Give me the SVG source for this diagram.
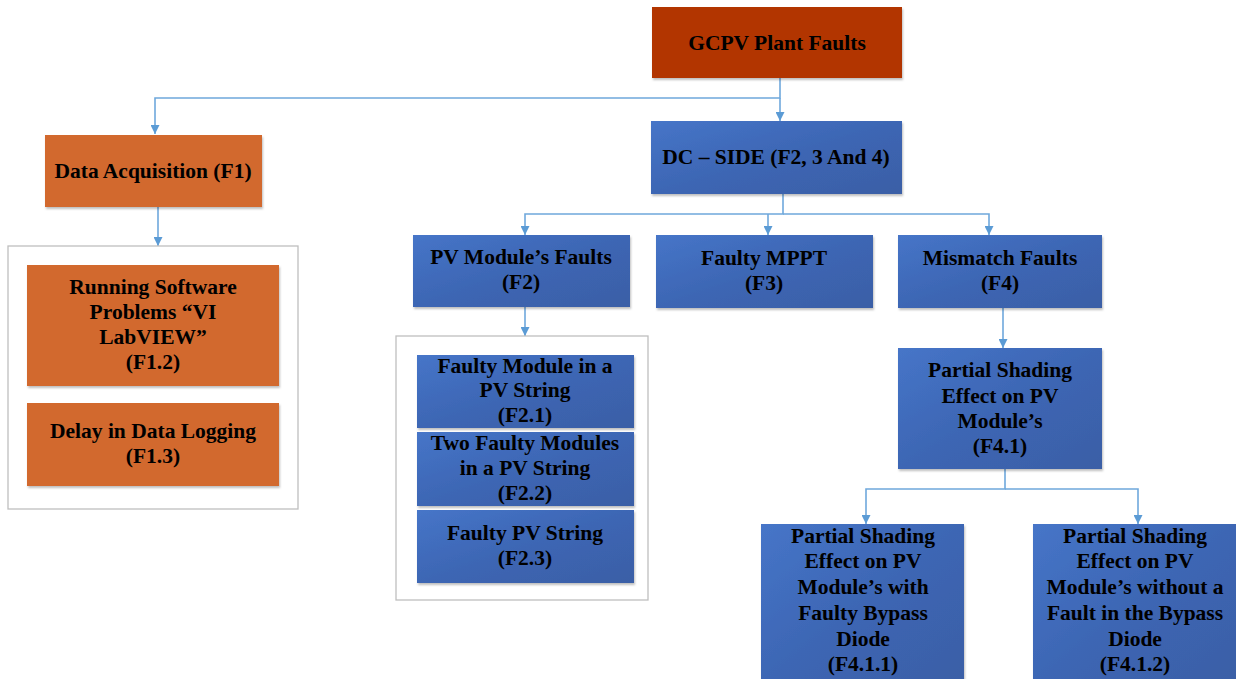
<svg xmlns="http://www.w3.org/2000/svg" width="1236" height="679" viewBox="0 0 1236 679">
<style>
.t{font-family:'Liberation Serif','Times New Roman','DejaVu Serif',serif;font-weight:700;font-size:21.5px;fill:#000;text-anchor:middle}
.blue{fill:url(#gb)}
.orange{fill:#D2692D}
.red{fill:#B23400}
.frame{fill:#fff;stroke:#BFBFBF;stroke-width:1.3}
.c{fill:none;stroke:#6FA8DC;stroke-width:1.6}
</style>
<defs>
<linearGradient id="gb" x1="0" y1="0" x2="1" y2="1">
<stop offset="0" stop-color="#4675C8"/>
<stop offset="0.5" stop-color="#3D66B4"/>
<stop offset="1" stop-color="#3A5FA6"/>
</linearGradient>
<marker id="ah" viewBox="0 0 10 10" refX="10" refY="5" markerWidth="9" markerHeight="9" markerUnits="userSpaceOnUse" orient="auto">
<path d="M0,0 L10,5 L0,10 z" fill="#5B9BD5"/>
</marker>
<filter id="sh" x="-5%" y="-5%" width="110%" height="115%">
<feDropShadow dx="1" dy="2" stdDeviation="1.2" flood-color="#000" flood-opacity="0.25"/>
</filter>
</defs>
<rect width="1236" height="679" fill="#fff"/>

<g id="connectors">
<path class="c" d="M780,78 V98 H155 V134" marker-end="url(#ah)"/>
<path class="c" d="M780,98 V121" marker-end="url(#ah)"/>
<path class="c" d="M158,207 V246" marker-end="url(#ah)"/>
<path class="c" d="M783,194 V214 H525 V235" marker-end="url(#ah)"/>
<path class="c" d="M768,214 V235" marker-end="url(#ah)"/>
<path class="c" d="M783,214 H989 V235" marker-end="url(#ah)"/>
<path class="c" d="M525,307 V336" marker-end="url(#ah)"/>
<path class="c" d="M1003,308 V348" marker-end="url(#ah)"/>
<path class="c" d="M1005,469 V489 H866 V524" marker-end="url(#ah)"/>
<path class="c" d="M1005,489 H1138 V524" marker-end="url(#ah)"/>
</g>

<g id="gcpv">
<rect class="red" x="652" y="7" width="250" height="71" filter="url(#sh)"/>
<text class="t" x="777" y="50">GCPV Plant Faults</text>
</g>

<g id="dc-side">
<rect class="blue" x="651" y="121" width="251" height="73" filter="url(#sh)"/>
<text class="t" x="776" y="164">DC – SIDE (F2, 3 And 4)</text>
</g>

<g id="f1">
<rect class="orange" x="45" y="135" width="217" height="72" filter="url(#sh)"/>
<text class="t" x="153" y="178">Data Acquisition (F1)</text>
</g>

<g id="f1-group">
<rect class="frame" x="8" y="246" width="290" height="263"/>
</g>

<g id="f1-2">
<rect class="orange" x="27" y="265" width="252" height="121" filter="url(#sh)"/>
<text class="t" x="153" y="294">Running Software</text>
<text class="t" x="153" y="319">Problems “VI</text>
<text class="t" x="153" y="344">LabVIEW”</text>
<text class="t" x="153" y="369">(F1.2)</text>
</g>

<g id="f1-3">
<rect class="orange" x="27" y="403" width="252" height="83" filter="url(#sh)"/>
<text class="t" x="153" y="438">Delay in Data Logging</text>
<text class="t" x="153" y="463">(F1.3)</text>
</g>

<g id="f2">
<rect class="blue" x="413" y="235" width="217" height="72" filter="url(#sh)"/>
<text class="t" x="521" y="264">PV Module’s Faults</text>
<text class="t" x="521" y="289">(F2)</text>
</g>

<g id="f3">
<rect class="blue" x="656" y="235" width="217" height="73" filter="url(#sh)"/>
<text class="t" x="764" y="265">Faulty MPPT</text>
<text class="t" x="764" y="290">(F3)</text>
</g>

<g id="f4">
<rect class="blue" x="898" y="235" width="204" height="73" filter="url(#sh)"/>
<text class="t" x="1000" y="265">Mismatch Faults</text>
<text class="t" x="1000" y="290">(F4)</text>
</g>

<g id="f2-group">
<rect class="frame" x="396" y="336" width="252" height="264"/>
</g>

<g id="f2-1">
<rect class="blue" x="417" y="355" width="217" height="73" filter="url(#sh)"/>
<text class="t" x="525" y="373">Faulty Module in a</text>
<text class="t" x="525" y="397">PV String</text>
<text class="t" x="525" y="422">(F2.1)</text>
</g>

<g id="f2-2">
<rect class="blue" x="417" y="432" width="217" height="74" filter="url(#sh)"/>
<text class="t" x="525" y="450">Two Faulty Modules</text>
<text class="t" x="525" y="475">in a PV String</text>
<text class="t" x="525" y="500">(F2.2)</text>
</g>

<g id="f2-3">
<rect class="blue" x="417" y="510" width="217" height="73" filter="url(#sh)"/>
<text class="t" x="525" y="540">Faulty PV String</text>
<text class="t" x="525" y="565">(F2.3)</text>
</g>

<g id="f4-1">
<rect class="blue" x="898" y="348" width="204" height="121" filter="url(#sh)"/>
<text class="t" x="1000" y="377">Partial Shading</text>
<text class="t" x="1000" y="403">Effect on PV</text>
<text class="t" x="1000" y="428">Module’s</text>
<text class="t" x="1000" y="453">(F4.1)</text>
</g>

<g id="f4-1-1">
<rect class="blue" x="761" y="524" width="203" height="160" filter="url(#sh)"/>
<text class="t" x="863" y="543">Partial Shading</text>
<text class="t" x="863" y="568">Effect on PV</text>
<text class="t" x="863" y="594">Module’s with</text>
<text class="t" x="863" y="620">Faulty Bypass</text>
<text class="t" x="863" y="646">Diode</text>
<text class="t" x="863" y="671">(F4.1.1)</text>
</g>

<g id="f4-1-2">
<rect class="blue" x="1033" y="524" width="203" height="160" filter="url(#sh)"/>
<text class="t" x="1135" y="543">Partial Shading</text>
<text class="t" x="1135" y="568">Effect on PV</text>
<text class="t" x="1135" y="594">Module’s without a</text>
<text class="t" x="1135" y="620">Fault in the Bypass</text>
<text class="t" x="1135" y="646">Diode</text>
<text class="t" x="1135" y="671">(F4.1.2)</text>
</g>
</svg>
